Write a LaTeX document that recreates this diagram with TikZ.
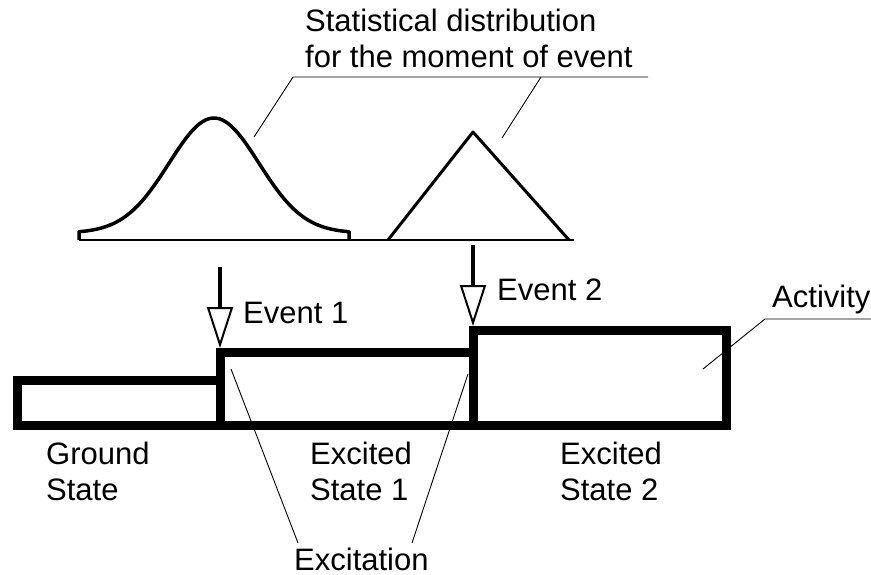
\documentclass[tikz,border=0pt]{standalone}
\usepackage{fontspec}
\setmainfont{Liberation Sans}
\usetikzlibrary{arrows.meta}

\tikzset{
  statebox/.style={line width=9pt, line join=miter},
  txt/.style={font=\fontsize{31}{36}\selectfont, inner sep=0pt, align=left, anchor=base west},
  leader/.style={line width=0.9pt},
  eventarrow/.style={line width=3.5pt, -{Triangle[open, length=41pt, width=26pt, line width=2pt]}},
  distcurve/.style={line width=3.5pt, line join=round}
}

\begin{document}
\begin{tikzpicture}[x=1pt, y=-1pt]
        \useasboundingbox (0,0) rectangle (871,575);

        % Distributions above the time line
        \draw[line width=1.5pt] (79,240) -- (574,240);
        \draw[distcurve] (79,240) -- (79,233)
            -- plot[domain=79:349, samples=80, smooth] (\x,{233-115*exp(-(((\x-214)/10)^2)/40.5)})
            -- (349,240);
        \draw[distcurve, line width=3pt] (388,240) -- (473,132) -- (569,240);

        % State boxes
        \draw[statebox] (17,380) rectangle (220,425);
        \draw[statebox] (220,352) rectangle (473,425);
        \draw[statebox] (473,330) rectangle (726,425);

        % Events
        \coordinate (ev1top) at (220,267);
        \coordinate (ev1tip) at (220,348);
        \coordinate (ev2top) at (473,245);
        \coordinate (ev2tip) at (473,326);
        \draw[eventarrow] (ev1top) -- (ev1tip);
        \draw[eventarrow] (ev2top) -- (ev2tip);
        \node[txt] (ev1) at (243,323) {Event 1};
        \node[txt] (ev2) at (497,300) {Event 2};

        % Labels (base anchor sits on the last line)
        \node[txt] (stat) at (305,68) {Statistical distribution\\for the moment of event};
        \node[txt] (act) at (772,307) {Activity};
        \node[txt] (gs) at (46,500) {Ground\\State};
        \node[txt] (es1) at (310,500) {Excited\\State 1};
        \node[txt] (es2) at (560,500) {Excited\\State 2};
        \node[txt] (exc) at (294,570) {Excitation};

        % Leader lines
        \coordinate (gausspt) at (254,137);
        \coordinate (tript) at (502,138);
        \coordinate (statl) at (293,77);
        \coordinate (statm) at (541,77);
        \coordinate (statr) at (648,77);
        \draw[leader] (gausspt) -- (statl) -- (statr);
        \draw[leader] (tript) -- (statm);

        \coordinate (actpt) at (703,369);
        \coordinate (actl) at (765,319);
        \coordinate (actr) at (871,319);
        \draw[leader] (actpt) -- (actl) -- (actr);

        \coordinate (exc1pt) at (231,369);
        \coordinate (exc2pt) at (468,374);
        \coordinate (excl) at (298,543);
        \coordinate (excr) at (412,543);
        \draw[leader] (exc1pt) -- (excl);
        \draw[leader] (exc2pt) -- (excr);
\end{tikzpicture}
\end{document}
